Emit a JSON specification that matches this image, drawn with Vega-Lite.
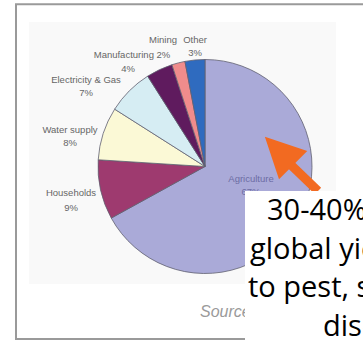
{
  "$schema": "https://vega.github.io/schema/vega-lite/v6.json",
  "width": 363,
  "height": 340,
  "autosize": "none",
  "padding": 0,
  "background": "white",
  "config": {"view": {"stroke": null}},
  "data": {"values": [
    {"sector": "Agriculture", "share": 67, "ord": 1},
    {"sector": "Households", "share": 9, "ord": 2},
    {"sector": "Water supply", "share": 8, "ord": 3},
    {"sector": "Electricity & Gas", "share": 7, "ord": 4},
    {"sector": "Manufacturing", "share": 4, "ord": 5},
    {"sector": "Mining", "share": 2, "ord": 6},
    {"sector": "Other", "share": 3, "ord": 7}
  ]},
  "layer": [
    {
      "data": {"values": [{}]},
      "mark": {"type": "rect", "fill": "#f9f9f9"},
      "encoding": {
        "x": {"datum": 29, "type": "quantitative", "scale": {"domain": [0, 363], "nice": false, "zero": false}, "axis": null},
        "x2": {"datum": 336},
        "y": {"datum": 22, "type": "quantitative", "scale": {"domain": [0, 340], "nice": false, "zero": false, "reverse": true}, "axis": null},
        "y2": {"datum": 284}
      }
    },
    {
      "data": {"values": [{}]},
      "mark": {"type": "rect", "filled": false, "stroke": "#9a9a9a", "strokeWidth": 2},
      "encoding": {
        "x": {"datum": 16, "type": "quantitative"},
        "x2": {"datum": 500},
        "y": {"datum": 4.3, "type": "quantitative"},
        "y2": {"datum": 339}
      }
    },
    {
      "mark": {"type": "arc", "radius": 107, "stroke": "#5f5f70", "strokeWidth": 0.8},
      "encoding": {
        "x": {"datum": 205, "type": "quantitative"},
        "y": {"datum": 166.5, "type": "quantitative"},
        "theta": {"field": "share", "type": "quantitative", "stack": true},
        "order": {"field": "ord", "type": "quantitative"},
        "color": {"field": "sector", "type": "nominal", "legend": null,
          "scale": {"domain": ["Agriculture", "Households", "Water supply", "Electricity & Gas", "Manufacturing", "Mining", "Other"],
                    "range": ["#aaaad8", "#9e3a6f", "#fbf9d6", "#d6edf3", "#5f1b5e", "#f08c8c", "#2f6bbf"]}}
      }
    },
    {
      "data": {"values": [{}]},
      "mark": {"type": "text", "font": "Liberation Sans", "fontSize": 9.5, "color": "#666666", "align": "center", "baseline": "middle", "text": "Mining"},
      "encoding": {"x": {"datum": 163, "type": "quantitative"}, "y": {"datum": 40, "type": "quantitative"}}
    },
    {
      "data": {"values": [{}]},
      "mark": {"type": "text", "font": "Liberation Sans", "fontSize": 9.5, "color": "#666666", "align": "center", "baseline": "middle", "lineHeight": 13, "text": ["Other", "3%"]},
      "encoding": {"x": {"datum": 195, "type": "quantitative"}, "y": {"datum": 40, "type": "quantitative"}}
    },
    {
      "data": {"values": [{}]},
      "mark": {"type": "text", "font": "Liberation Sans", "fontSize": 9.5, "color": "#666666", "align": "center", "baseline": "middle", "text": "Manufacturing  2%"},
      "encoding": {"x": {"datum": 132, "type": "quantitative"}, "y": {"datum": 55, "type": "quantitative"}}
    },
    {
      "data": {"values": [{}]},
      "mark": {"type": "text", "font": "Liberation Sans", "fontSize": 9.5, "color": "#666666", "align": "center", "baseline": "middle", "text": "4%"},
      "encoding": {"x": {"datum": 128, "type": "quantitative"}, "y": {"datum": 69, "type": "quantitative"}}
    },
    {
      "data": {"values": [{}]},
      "mark": {"type": "text", "font": "Liberation Sans", "fontSize": 9.5, "color": "#666666", "align": "center", "baseline": "middle", "lineHeight": 13, "text": ["Electricity & Gas", "7%"]},
      "encoding": {"x": {"datum": 86, "type": "quantitative"}, "y": {"datum": 80, "type": "quantitative"}}
    },
    {
      "data": {"values": [{}]},
      "mark": {"type": "text", "font": "Liberation Sans", "fontSize": 9.5, "color": "#666666", "align": "center", "baseline": "middle", "lineHeight": 13, "text": ["Water supply", "8%"]},
      "encoding": {"x": {"datum": 70, "type": "quantitative"}, "y": {"datum": 130, "type": "quantitative"}}
    },
    {
      "data": {"values": [{}]},
      "mark": {"type": "text", "font": "Liberation Sans", "fontSize": 9.5, "color": "#666666", "align": "center", "baseline": "middle", "lineHeight": 15, "text": ["Households", "9%"]},
      "encoding": {"x": {"datum": 71, "type": "quantitative"}, "y": {"datum": 193, "type": "quantitative"}}
    },
    {
      "data": {"values": [{}]},
      "mark": {"type": "text", "font": "Liberation Sans", "fontSize": 9.5, "color": "#6c6ca4", "align": "center", "baseline": "middle", "lineHeight": 13, "text": ["Agriculture", "67%"]},
      "encoding": {"x": {"datum": 251, "type": "quantitative"}, "y": {"datum": 179, "type": "quantitative"}}
    },
    {
      "data": {"values": [{}]},
      "mark": {"type": "text", "font": "Liberation Sans", "fontSize": 16, "fontStyle": "italic", "color": "#9a9a9a", "align": "left", "baseline": "alphabetic", "text": "Source: FAO"},
      "encoding": {"x": {"datum": 200, "type": "quantitative"}, "y": {"datum": 317, "type": "quantitative"}}
    },
    {
      "data": {"values": [{}]},
      "mark": {"type": "rule", "color": "#f26a21", "strokeWidth": 9},
      "encoding": {
        "x": {"datum": 290, "type": "quantitative"},
        "y": {"datum": 164, "type": "quantitative"},
        "x2": {"datum": 318},
        "y2": {"datum": 191}
      }
    },
    {
      "data": {"values": [{}]},
      "mark": {"type": "point", "shape": "M0,-1L1,1L-1,1Z", "size": 1600, "angle": 315, "filled": true, "color": "#f26a21", "opacity": 1},
      "encoding": {"x": {"datum": 279, "type": "quantitative"}, "y": {"datum": 151, "type": "quantitative"}}
    },
    {
      "data": {"values": [{}]},
      "mark": {"type": "rect", "fill": "white"},
      "encoding": {
        "x": {"datum": 245, "type": "quantitative"},
        "x2": {"datum": 500},
        "y": {"datum": 191, "type": "quantitative"},
        "y2": {"datum": 400}
      }
    },
    {
      "data": {"values": [{}]},
      "mark": {"type": "text", "font": "Open Sans", "fontSize": 29, "color": "black", "align": "left", "baseline": "alphabetic", "text": "30-40% of"},
      "encoding": {"x": {"datum": 267, "type": "quantitative"}, "y": {"datum": 220, "type": "quantitative"}}
    },
    {
      "data": {"values": [{}]},
      "mark": {"type": "text", "font": "Open Sans", "fontSize": 29, "color": "black", "align": "left", "baseline": "alphabetic", "text": "global yield lost due"},
      "encoding": {"x": {"datum": 250, "type": "quantitative"}, "y": {"datum": 259, "type": "quantitative"}}
    },
    {
      "data": {"values": [{}]},
      "mark": {"type": "text", "font": "Open Sans", "fontSize": 29, "color": "black", "align": "left", "baseline": "alphabetic", "text": "to pest, such as"},
      "encoding": {"x": {"datum": 248, "type": "quantitative"}, "y": {"datum": 297, "type": "quantitative"}}
    },
    {
      "data": {"values": [{}]},
      "mark": {"type": "text", "font": "Open Sans", "fontSize": 29, "color": "black", "align": "left", "baseline": "alphabetic", "text": "disease"},
      "encoding": {"x": {"datum": 323, "type": "quantitative"}, "y": {"datum": 336, "type": "quantitative"}}
    }
  ]
}
